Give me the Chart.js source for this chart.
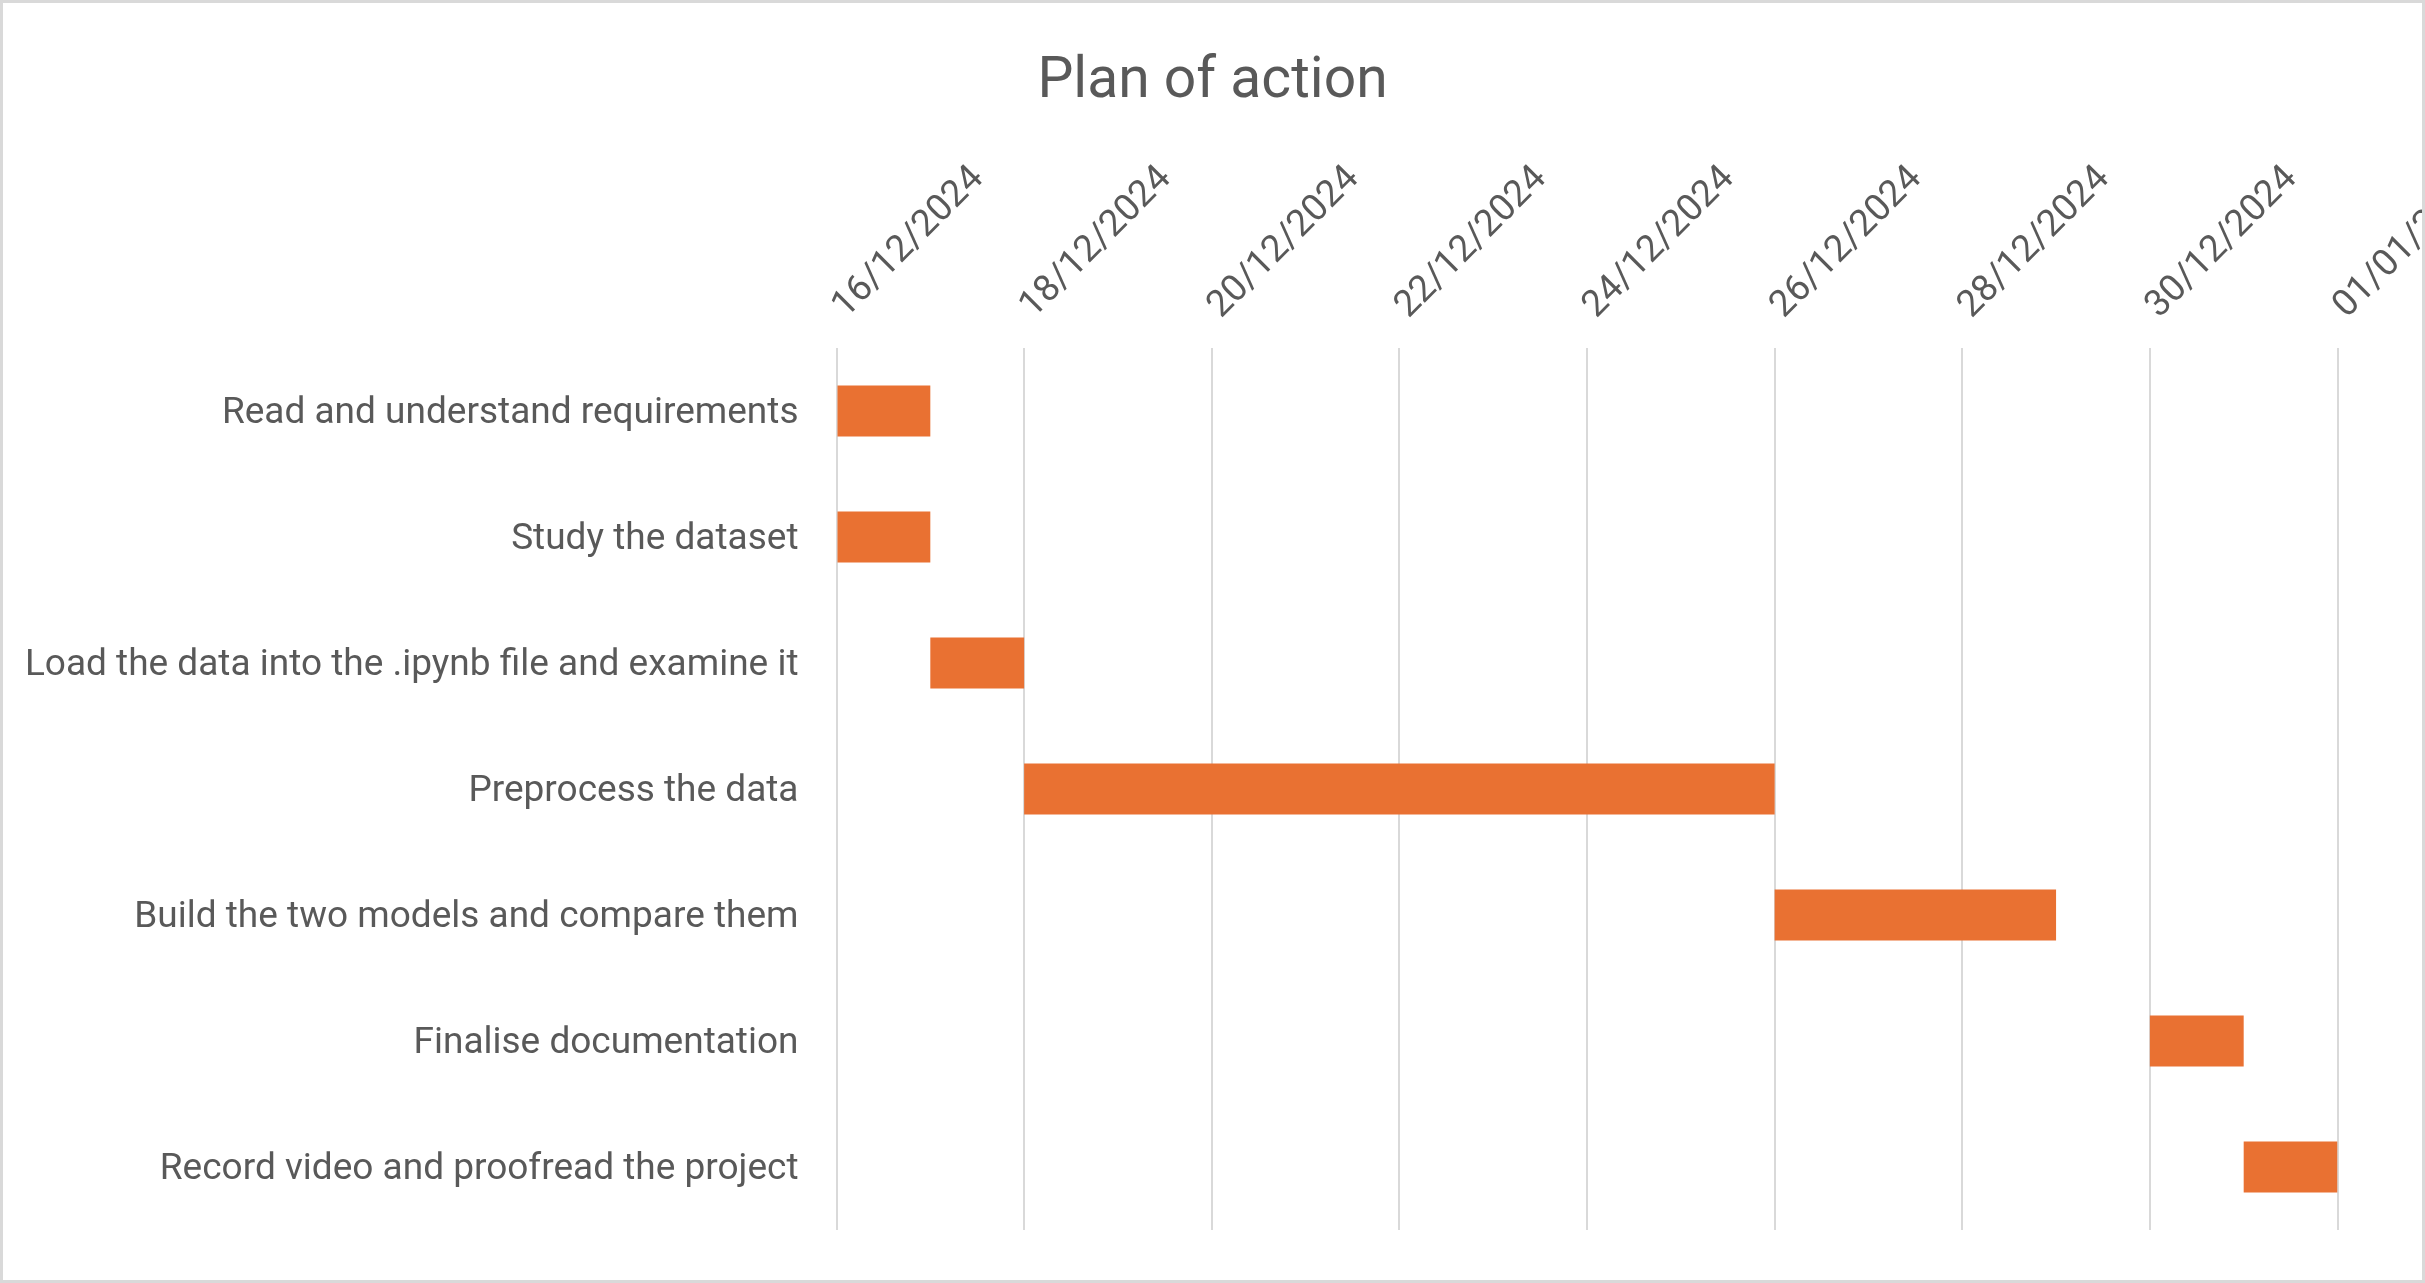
<!DOCTYPE html>
<html><head><meta charset="utf-8">
<script src="https://cdn.jsdelivr.net/npm/chart.js@4.4.1/dist/chart.umd.min.js"></script>
<style>
html,body{margin:0;padding:0;background:#fff;}
#wrap{position:relative;width:2425px;height:1283px;box-sizing:border-box;border:3px solid #d9d9d9;overflow:hidden;background:#fff;}
#c{display:block;}
</style></head><body>
<div id="wrap"><canvas id="c" width="2419" height="1277"></canvas></div>
<script>
const titleText = 'Plan of action';
const tasks = [
  'Read and understand requirements',
  'Study the dataset',
  'Load the data into the .ipynb file and examine it',
  'Preprocess the data',
  'Build the two models and compare them',
  'Finalise documentation',
  'Record video and proofread the project'
];
const startDates = ['2024-12-16','2024-12-16','2024-12-17','2024-12-18','2024-12-26','2024-12-30','2024-12-31'];
const durations = [1, 1, 1, 8, 3, 1, 1];
const axisStart = '2024-12-16';
const axisEnd = '2025-01-01';
const tickStepDays = 2;

const DAY = 86400000;
function toDay(s){ const [y,m,d] = s.split('-').map(Number); return Date.UTC(y, m-1, d) / DAY; }
const base = toDay(axisStart);
function fmt(offset){
  const dt = new Date((base + offset) * DAY);
  const dd = String(dt.getUTCDate()).padStart(2,'0');
  const mm = String(dt.getUTCMonth()+1).padStart(2,'0');
  return dd + '/' + mm + '/' + dt.getUTCFullYear();
}
const bars = startDates.map((s,i) => { const a = toDay(s) - base; return [a, a + durations[i]]; });

const FONT = 'Roboto';
const GREY = '#595959';

new Chart(document.getElementById('c'), {
  type: 'bar',
  data: {
    labels: tasks,
    datasets: [{
      data: bars,
      backgroundColor: '#E97132',
      borderWidth: 0,
      categoryPercentage: 1,
      barPercentage: 0.405
    }]
  },
  options: {
    indexAxis: 'y',
    responsive: false,
    animation: false,
    devicePixelRatio: 1,
    layout: { padding: { left: 0, right: 0, top: 0, bottom: 50 } },
    plugins: {
      legend: { display: false },
      tooltip: { enabled: false },
      title: {
        display: true,
        text: titleText,
        color: GREY,
        font: { family: FONT, size: 57, weight: 'normal', lineHeight: 1.2 },
        padding: { top: 45.8, bottom: 0 }
      }
    },
    scales: {
      x: {
        type: 'linear',
        position: 'top',
        min: 0,
        max: toDay(axisEnd) - base,
        grid: { color: '#d9d9d9', lineWidth: 2, drawTicks: false },
        border: { display: false },
        ticks: {
          stepSize: tickStepDays,
          autoSkip: false,
          minRotation: 45,
          maxRotation: 45,
          padding: 20,
          labelOffset: 34,
          color: GREY,
          font: { family: FONT, size: 37 },
          callback: (v) => fmt(v)
        },
        afterFit: (s) => { s.height = 230.8; s.paddingLeft = 0; s.paddingRight = 84.5; }
      },
      y: {
        grid: { display: false, drawTicks: false },
        border: { display: false },
        ticks: { padding: 38, labelOffset: 3, color: GREY, font: { family: FONT, size: 37 } },
        afterFit: (s) => { s.width = 833.5; s.paddingTop = 0; s.paddingBottom = 0; }
      }
    }
  }
});
</script>
</body></html>
